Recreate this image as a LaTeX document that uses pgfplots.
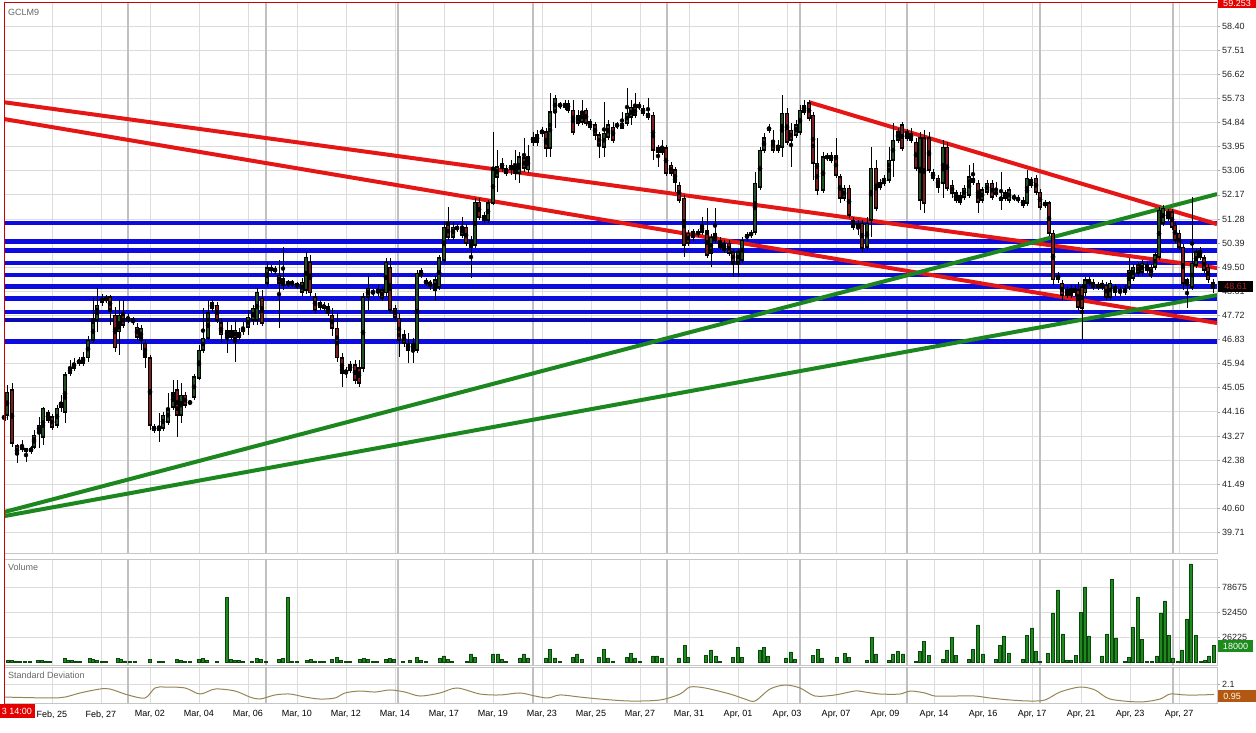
\documentclass[border=0pt]{standalone}
\usepackage{pgfplots}
\pgfplotsset{compat=1.18}
\usepackage{pgfplotstable}
\usepackage{fontspec}
\setmainfont{Liberation Sans}
\definecolor{gridl}{RGB}{220,220,220}
\definecolor{gridd}{RGB}{192,192,192}
\definecolor{tred}{RGB}{228,22,22}
\definecolor{tgreen}{RGB}{28,135,30}
\definecolor{tblue}{RGB}{12,12,222}
\definecolor{cup}{RGB}{35,80,35}
\definecolor{cdn}{RGB}{125,28,28}
\definecolor{volg}{RGB}{28,138,28}
\definecolor{volgd}{RGB}{12,70,12}
\definecolor{sdc}{RGB}{150,132,85}
\definecolor{curs}{RGB}{205,0,0}
\definecolor{boxbrown}{RGB}{178,88,18}
\definecolor{labc}{RGB}{35,35,35}
\newcommand\ff{\fontsize{9}{10}\selectfont}

\pgfplotstableread{
x lo hi bb bt
7 43.86 45.15 44.04 44.89
22 42.68 43.12 42.79 42.90
31 42.60 42.90 42.71 42.82
34 42.79 43.49 42.86 43.30
39 42.82 43.97 43.41 43.67
43 42.94 44.34 43.23 44.30
57 43.56 44.41 43.67 44.30
61 44.15 44.78 44.34 44.52
65 43.75 45.63 44.15 45.52
70 45.48 46.07 45.59 45.78
74 45.67 46.15 45.78 45.96
79 45.85 46.18 45.96 46.07
83 45.85 46.37 45.96 46.18
88 45.99 46.96 46.15 46.81
93 46.70 48.40 46.81 47.44
97 47.11 48.73 47.55 48.10
102 48.07 48.51 48.21 48.36
119 46.26 48.29 47.11 47.73
141 46.44 47.36 46.81 47.25
159 43.05 44.12 43.49 43.60
163 43.45 44.15 43.56 44.04
168 43.67 44.85 43.78 44.30
173 44.23 45.33 44.34 44.89
181 43.75 45.22 44.04 44.78
190 44.41 44.60 44.49 44.52
194 44.60 45.56 44.71 45.45
199 45.33 46.63 45.41 46.44
203 46.33 47.99 46.44 46.88
208 46.81 48.29 46.88 47.81
212 47.84 48.29 47.99 48.18
231 46.81 47.36 46.92 47.18
239 46.81 47.25 46.92 47.07
243 47.00 47.48 47.11 47.25
248 47.00 47.92 47.29 47.66
253 47.36 48.10 47.55 47.99
257 47.36 48.73 47.55 48.58
267 48.77 49.69 48.91 49.47
283 48.66 50.24 48.84 49.10
292 48.77 49.03 48.88 48.95
302 48.43 49.10 48.58 48.95
306 48.51 50.06 48.66 49.87
350 45.59 46.04 45.70 45.89
363 45.63 48.55 45.78 48.40
368 47.92 49.17 48.40 48.73
378 48.43 48.84 48.55 48.66
386 48.40 49.84 48.55 49.69
413 45.96 46.88 46.44 46.70
417 46.33 49.39 46.44 49.28
435 48.29 49.17 48.66 49.03
439 48.66 49.95 48.77 49.84
444 49.65 51.17 49.76 50.98
453 50.50 51.17 50.61 50.98
462 50.58 51.35 50.69 50.98
475 50.21 52.05 50.32 51.90
488 51.13 51.98 51.24 51.87
493 51.79 54.49 51.87 53.09
497 52.27 53.82 52.83 53.20
502 53.01 53.53 53.16 53.34
511 52.90 53.45 53.09 53.27
519 52.61 53.75 52.97 53.57
528 52.97 54.01 53.09 53.57
533 53.97 54.49 54.12 54.30
542 54.30 54.67 54.45 54.56
550 53.57 55.93 53.90 55.23
555 54.64 55.85 55.23 55.74
568 55.19 55.67 55.30 55.56
582 54.75 55.67 54.86 55.23
604 53.57 55.60 53.93 54.45
608 54.19 54.93 54.30 54.75
617 54.60 54.86 54.71 54.78
622 54.60 55.23 54.64 54.82
627 54.71 56.11 54.82 55.19
631 54.75 55.67 55.04 55.41
639 55.30 55.60 55.41 55.48
662 53.64 54.19 53.75 53.93
693 50.46 50.91 50.58 50.80
698 50.61 50.91 50.72 50.80
702 50.69 51.35 50.80 51.05
711 49.50 50.72 50.02 50.61
738 49.14 50.17 49.69 50.06
742 49.65 50.61 49.76 50.50
747 50.46 50.80 50.58 50.69
751 50.58 50.87 50.69 50.76
755 50.69 53.01 50.80 52.60
760 52.35 53.93 52.46 53.82
764 53.71 54.45 53.82 54.27
769 54.45 54.78 54.56 54.67
778 53.71 54.19 53.82 54.01
782 53.57 55.85 53.93 55.19
796 54.27 54.93 54.38 54.75
800 54.38 55.48 54.49 55.30
804 55.11 55.67 55.23 55.48
823 52.24 53.75 52.35 53.57
831 53.34 53.75 53.45 53.64
844 51.94 52.53 52.05 52.42
867 50.13 51.35 50.24 51.13
871 50.61 53.93 51.24 53.16
880 52.35 52.75 52.46 52.64
884 52.49 52.90 52.60 52.79
889 52.61 53.93 52.72 53.45
893 52.83 54.82 53.45 54.19
898 54.08 54.64 54.19 54.49
907 54.16 54.60 54.27 54.49
920 51.61 54.49 51.98 54.27
943 52.05 54.19 52.60 53.93
960 51.79 52.27 51.90 52.16
964 51.98 52.53 52.09 52.42
969 52.05 53.27 52.16 52.83
982 51.87 52.46 51.98 52.35
987 52.16 52.72 52.27 52.60
1005 51.94 52.35 52.05 52.24
1009 51.87 52.46 51.98 52.35
1027 51.76 53.09 51.87 52.79
1031 52.42 52.83 52.53 52.72
1067 48.36 48.77 48.47 48.66
1075 48.43 48.84 48.55 48.73
1085 48.43 49.14 48.55 49.03
1089 48.80 49.14 48.91 49.03
1102 48.66 49.03 48.77 48.91
1110 48.29 49.03 48.40 48.91
1115 48.43 48.88 48.55 48.77
1125 48.47 48.84 48.58 48.73
1129 48.66 49.84 48.77 49.39
1133 48.99 49.61 49.10 49.50
1142 49.21 49.76 49.32 49.65
1155 49.39 50.06 49.50 49.95
1159 49.76 51.72 49.87 51.61
1163 51.02 51.79 51.13 51.68
1192 48.66 52.09 48.77 49.65
1196 49.47 50.17 49.58 50.06
}\upc

\pgfplotstableread{
x lo hi bb bt
4 43.78 44.15 43.86 44.04
12 42.86 45.22 43.01 44.97
17 42.27 42.97 42.57 42.90
26 42.31 42.82 42.71 42.79
48 43.75 44.23 43.86 44.12
52 43.49 44.08 43.60 43.97
106 48.18 48.47 48.29 48.36
110 47.36 48.47 47.92 48.40
115 46.37 48.03 46.52 47.73
123 47.25 48.29 47.36 47.73
128 47.44 47.77 47.55 47.66
133 47.36 47.66 47.48 47.59
137 46.81 47.44 46.92 47.29
145 45.78 46.81 46.18 46.70
150 43.49 46.26 43.67 46.15
154 43.38 43.71 43.49 43.60
177 43.23 45.33 44.04 44.97
185 44.30 44.89 44.41 44.78
217 47.44 48.21 47.55 48.10
221 46.70 47.62 47.00 47.44
227 46.33 47.48 46.92 47.18
235 46.00 47.55 46.88 47.18
262 47.33 48.66 47.44 48.36
271 49.28 49.58 49.39 49.47
275 49.25 49.54 49.36 49.43
279 47.25 49.76 48.91 49.21
288 48.77 49.03 48.88 48.95
297 48.69 48.95 48.80 48.88
310 48.43 49.95 48.55 49.69
315 47.81 48.55 47.92 48.40
320 47.92 48.29 48.03 48.18
324 47.88 48.21 47.99 48.10
328 47.70 48.18 47.81 48.03
332 46.96 47.99 47.25 47.73
337 45.99 47.81 46.15 47.25
342 45.08 46.33 45.59 46.15
346 45.41 45.81 45.59 45.70
355 45.19 46.07 45.33 45.89
359 45.08 46.07 45.22 45.78
373 48.43 48.69 48.55 48.62
382 48.25 48.77 48.36 48.66
390 47.81 49.84 47.92 49.50
395 47.55 48.10 47.66 47.99
399 46.18 47.81 46.81 47.62
404 46.55 47.18 46.70 47.00
408 45.96 47.07 46.44 46.70
421 49.10 49.47 49.21 49.36
426 48.80 49.10 48.91 48.99
430 48.66 49.03 48.84 48.95
448 50.50 51.72 50.61 51.05
457 50.80 51.09 50.91 50.98
466 50.28 51.09 50.39 50.98
471 49.10 50.65 50.24 50.50
479 51.24 52.05 51.35 51.90
484 51.13 51.54 51.24 51.42
506 52.86 53.27 52.97 53.16
515 52.72 53.82 52.97 53.20
524 53.01 54.27 53.16 53.53
537 53.97 54.56 54.12 54.38
546 53.57 54.64 53.90 54.49
560 55.34 55.60 55.45 55.52
565 55.30 55.67 55.41 55.56
573 54.38 55.67 54.49 55.30
578 54.71 55.30 54.82 55.11
586 54.71 55.37 54.82 55.30
590 54.56 54.97 54.67 54.86
595 54.19 54.86 54.38 54.75
599 53.53 54.49 54.01 54.38
613 54.08 54.86 54.19 54.67
635 55.00 55.93 55.11 55.41
643 55.08 55.48 55.19 55.37
648 54.93 55.74 55.04 55.19
653 53.45 55.23 53.82 55.11
658 53.20 54.01 53.75 53.90
666 52.86 54.01 52.97 53.90
671 52.86 53.38 52.97 53.27
675 52.27 53.20 52.64 53.09
679 51.87 52.64 51.98 52.53
684 49.87 52.16 50.32 52.05
688 50.28 50.87 50.39 50.76
707 49.84 51.68 49.95 50.87
715 50.39 51.68 50.50 50.76
720 50.13 50.61 50.24 50.50
724 50.02 50.50 50.13 50.39
729 49.91 50.50 50.02 50.39
733 49.14 50.17 49.69 50.06
773 53.71 54.56 53.82 54.19
787 54.01 55.37 54.12 55.19
791 53.20 54.82 54.19 54.56
809 54.89 55.67 55.00 55.56
813 52.72 55.23 53.34 55.11
817 52.16 54.27 52.35 53.34
827 53.42 53.71 53.53 53.60
836 52.79 54.27 52.90 53.64
840 51.87 52.94 52.05 52.83
849 51.31 52.53 51.42 52.42
853 50.87 51.35 50.98 51.24
858 50.69 51.24 50.95 51.13
862 50.06 51.24 50.21 51.13
876 51.57 53.45 51.68 53.16
902 53.79 54.86 53.90 54.75
911 54.08 54.64 54.19 54.45
916 53.05 54.27 53.16 54.12
924 51.50 54.56 51.87 54.27
929 52.97 54.49 53.09 54.27
933 52.68 53.12 52.79 53.01
938 52.24 52.90 52.46 52.79
947 52.31 54.12 52.42 53.93
952 52.05 52.72 52.24 52.53
956 51.87 52.35 51.98 52.24
973 52.53 53.34 52.64 52.79
978 51.50 52.72 51.90 52.60
992 51.98 52.72 52.09 52.60
996 52.09 52.64 52.20 52.27
1001 51.61 53.01 51.98 52.09
1014 51.94 52.20 52.05 52.12
1018 51.87 52.16 51.98 52.05
1023 51.68 52.09 51.79 51.98
1036 52.16 52.90 52.27 52.79
1040 51.61 52.38 51.72 52.27
1045 51.68 51.98 51.79 51.87
1049 50.65 51.94 50.76 51.87
1053 48.84 50.87 49.03 50.76
1058 48.91 49.32 49.03 49.21
1062 48.29 49.03 48.47 48.91
1071 48.36 48.84 48.47 48.73
1078 47.92 48.95 48.03 48.66
1082 46.81 48.88 47.99 48.77
1093 48.66 49.06 48.77 48.95
1098 48.66 48.95 48.77 48.84
1106 48.29 48.95 48.40 48.84
1120 48.43 48.77 48.55 48.66
1138 49.17 49.69 49.28 49.58
1147 49.28 49.69 49.39 49.58
1151 49.10 49.61 49.21 49.50
1168 51.20 51.65 51.31 51.54
1172 50.87 51.65 50.98 51.54
1175 50.39 51.17 50.50 51.05
1179 50.13 50.87 50.24 50.76
1183 48.66 50.35 48.91 50.24
1187 47.99 49.10 48.84 49.03
1200 49.76 50.24 49.87 50.13
1204 49.28 49.95 49.39 49.84
1208 48.91 49.61 49.03 49.50
1213 48.55 49.06 48.73 48.95
}\dnc

\pgfplotstableread{
x v
8 1500
12 1500
16 1200
20 1000
25 1000
30 1000
38 1500
42 1800
46 1200
50 800
65 4000
68 2000
72 1500
76 1200
80 1000
90 3500
93 2500
97 2000
102 1000
106 800
118 3500
121 2500
125 1200
130 800
135 800
150 2500
159 800
163 800
177 2500
181 2000
185 1000
190 800
199 2500
203 3500
207 2000
217 800
227 68000
231 2500
235 2000
239 1500
243 1000
252 1000
257 4000
261 3000
266 1000
279 2500
283 3500
288 68000
292 1000
297 800
307 2000
311 2500
315 1200
320 1000
324 800
332 2500
337 5000
341 1500
346 1000
350 800
360 2500
364 4000
368 3000
373 1000
377 800
386 2500
390 4000
394 2500
403 1000
410 1500
417 5000
421 1500
426 1000
440 4200
444 6300
448 3100
452 1000
467 1000
471 8400
475 5200
493 8400
498 8400
502 3100
506 1000
520 4200
524 8400
528 4200
546 4200
550 13600
555 4200
560 800
573 5200
577 8400
582 3100
599 5200
604 13600
608 4200
613 1000
627 5200
631 9400
635 4200
640 800
653 6300
657 6300
662 4200
679 4200
685 17800
688 5200
706 7300
711 12600
716 6300
720 800
733 5200
738 15700
742 5200
760 12600
764 15700
768 6300
786 4200
791 10500
795 3100
813 7300
818 13600
822 4200
837 5200
845 9400
849 5200
867 2000
872 26000
876 8400
889 2000
893 8400
898 11500
903 8400
916 1000
920 11500
924 22000
929 7300
943 3100
947 12600
952 26000
956 7300
969 3100
973 13600
978 38800
983 8400
996 3100
1000 17800
1004 27300
1009 9400
1023 3100
1027 28300
1032 35700
1036 11500
1040 1000
1048 9400
1053 51400
1058 75500
1063 29400
1067 1500
1071 1500
1076 7300
1081 52400
1085 78700
1089 27300
1102 6300
1107 29400
1112 87000
1116 25200
1125 500
1129 5200
1133 36700
1138 68200
1142 24100
1147 1000
1152 1000
1157 6300
1161 51400
1165 64000
1169 28300
1173 4200
1178 1000
1182 12600
1187 45100
1191 102800
1196 28300
1201 1000
1205 2000
1209 6300
1214 17800
}\vol

\pgfplotstableread{
x s
4 0.85
50 0.76
65 0.85
80 1.24
100 1.62
110 1.62
128 1.05
145 0.76
155 1.72
165 1.81
185 1.72
200 1.14
215 1.62
235 1.43
250 0.85
260 0.66
275 1.05
290 1.14
305 0.85
320 0.66
335 0.76
345 1.24
360 1.43
375 1.33
390 1.53
405 1.33
420 0.95
440 1.24
457 1.72
480 1.14
500 1.05
520 1.24
535 0.95
548 0.76
560 1.05
580 0.85
600 0.66
630 0.47
660 0.57
680 1.14
690 1.81
705 1.72
730 1.14
745 0.66
755 0.47
770 1.62
785 2.00
800 1.72
815 0.95
835 1.05
855 1.43
865 1.33
880 1.14
900 1.14
910 1.43
925 1.24
935 0.95
955 0.95
975 0.95
990 0.76
1010 0.57
1030 0.47
1045 0.57
1060 1.33
1080 1.81
1095 1.53
1110 0.66
1140 0.38
1160 0.66
1170 1.14
1185 1.05
1200 1.05
1214 1.10
}\sdt

\pgfplotsset{
  panel/.style={
    scale only axis, width=1213pt, xmin=4, xmax=1217,
    axis line style={draw=gray!45, line width=0.8pt},
    xtick={52,101,...,1179},
    xmajorgrids=true, ymajorgrids=true,
    major grid style={draw=gridl, line width=0.8pt},
    extra x ticks={128,266,398,533,667,800,907,1040,1173},
    extra x tick labels={},
    extra x tick style={xmajorgrids=true, major grid style={draw=gridd, line width=1.6pt}, xtick style={draw=none}},
    xtick style={draw=none},
    ytick style={draw=gray!70, line width=0.6pt},
    tick align=outside, major tick length=3pt,
    ytick pos=right, yticklabel pos=right,
    tick label style={font=\ff, text=labc},
    yticklabel style={xshift=-1.5pt},
    scaled ticks=false,
    clip=true,
  },
}

\begin{document}
\begin{tikzpicture}
\useasboundingbox (0,0) rectangle (1256pt,732pt);

% ---------- price panel ----------
\begin{axis}[panel, at={(4pt,179pt)}, anchor=south west, height=551pt,
  ymin=38.95, ymax=59.29,
  xticklabels={},
  ytick={39.71,40.60,41.49,42.38,43.27,44.16,45.05,45.94,46.83,47.72,48.61,49.50,50.39,51.28,52.17,53.06,53.95,54.84,55.73,56.62,57.51,58.40},
  yticklabels={39.71,40.60,41.49,42.38,43.27,44.16,45.05,45.94,46.83,47.72,48.61,49.50,50.39,51.28,52.17,53.06,53.95,54.84,55.73,56.62,57.51,58.40},
]
% support / resistance levels
\addplot[tblue, line width=4.5pt, forget plot] coordinates {(4,51.14) (1217,51.14)};
\addplot[tblue, line width=4.5pt, forget plot] coordinates {(4,50.44) (1217,50.44)};
\addplot[tblue, line width=4.5pt, forget plot] coordinates {(4,50.11) (1217,50.11)};
\addplot[tblue, line width=4.5pt, forget plot] coordinates {(4,49.66) (1217,49.66)};
\addplot[tblue, line width=4.5pt, forget plot] coordinates {(4,49.21) (1217,49.21)};
\addplot[tblue, line width=4.5pt, forget plot] coordinates {(4,48.78) (1217,48.78)};
\addplot[tblue, line width=4.5pt, forget plot] coordinates {(4,48.35) (1217,48.35)};
\addplot[tblue, line width=4.5pt, forget plot] coordinates {(4,47.85) (1217,47.85)};
\addplot[tblue!80!black, line width=4.5pt, forget plot] coordinates {(4,47.55) (1217,47.55)};
\addplot[tblue, line width=4.5pt, forget plot] coordinates {(4,46.75) (1217,46.75)};
% trend lines
\addplot[tred, line width=4pt, forget plot] coordinates {(4,55.59) (1217,49.47)};
\addplot[tred, line width=4pt, forget plot] coordinates {(4,54.97) (1217,47.44)};
\addplot[tred, line width=4pt, forget plot] coordinates {(809,55.59) (1217,51.09)};
\addplot[tgreen, line width=4pt, forget plot] coordinates {(4,40.46) (1217,52.20)};
\addplot[tgreen, line width=4pt, forget plot] coordinates {(4,40.31) (1217,48.47)};
% candles: wicks
\addplot[only marks, mark=none, forget plot, error bars/.cd, y dir=both, y explicit, error mark=none,
  error bar style={draw=black, line width=1pt}]
  table[x=x, y expr={(\thisrow{hi}+\thisrow{lo})/2}, y error expr={(\thisrow{hi}-\thisrow{lo})/2}] {\upc};
\addplot[only marks, mark=none, forget plot, error bars/.cd, y dir=both, y explicit, error mark=none,
  error bar style={draw=black, line width=1pt}]
  table[x=x, y expr={(\thisrow{hi}+\thisrow{lo})/2}, y error expr={(\thisrow{hi}-\thisrow{lo})/2}] {\dnc};
% candle bodies (outline)
\addplot[only marks, mark=none, forget plot, error bars/.cd, y dir=both, y explicit, error mark=none,
  error bar style={draw=black, line width=3.6pt}]
  table[x=x, y expr={(\thisrow{bt}+\thisrow{bb})/2}, y error expr={(\thisrow{bt}-\thisrow{bb})/2+0.02}] {\upc};
\addplot[only marks, mark=none, forget plot, error bars/.cd, y dir=both, y explicit, error mark=none,
  error bar style={draw=black, line width=3.6pt}]
  table[x=x, y expr={(\thisrow{bt}+\thisrow{bb})/2}, y error expr={(\thisrow{bt}-\thisrow{bb})/2+0.02}] {\dnc};
% candle bodies (fill)
\addplot[only marks, mark=none, forget plot, error bars/.cd, y dir=both, y explicit, error mark=none,
  error bar style={draw=cup, line width=1.8pt}]
  table[x=x, y expr={(\thisrow{bt}+\thisrow{bb})/2}, y error expr={max((\thisrow{bt}-\thisrow{bb})/2-0.03,0.002)}] {\upc};
\addplot[only marks, mark=none, forget plot, error bars/.cd, y dir=both, y explicit, error mark=none,
  error bar style={draw=cdn, line width=1.8pt}]
  table[x=x, y expr={(\thisrow{bt}+\thisrow{bb})/2}, y error expr={max((\thisrow{bt}-\thisrow{bb})/2-0.03,0.002)}] {\dnc};
% cursor line at high
\draw[curs, line width=1pt] (axis cs:4,59.253) -- (axis cs:1217,59.253);
\end{axis}

% ---------- volume panel ----------
\begin{axis}[panel, at={(4pt,67pt)}, anchor=south west, height=106pt,
  ymin=-3147, ymax=108000,
  xticklabels={},
  ytick={26225,52450,78675}, yticklabels={26225,52450,78675},
]
\addplot[ybar, bar width=3pt, fill=volg, draw=volgd, line width=0.4pt, forget plot] table[x=x, y=v] {\vol};
\end{axis}

% ---------- standard deviation panel ----------
\begin{axis}[panel, at={(4pt,29pt)}, anchor=south west, height=36pt,
  ymin=0.28, ymax=3.73,
  ytick={2.1}, yticklabels={2.1},
  xticklabels={{Feb, 25},{Feb, 27},{Mar, 02},{Mar, 04},{Mar, 06},{Mar, 10},{Mar, 12},{Mar, 14},{Mar, 17},{Mar, 19},{Mar, 23},{Mar, 25},{Mar, 27},{Mar, 31},{Apr, 01},{Apr, 03},{Apr, 07},{Apr, 09},{Apr, 14},{Apr, 16},{Apr, 17},{Apr, 21},{Apr, 23},{Apr, 27}},
  xticklabel style={text=black, yshift=-1pt},
]
\addplot[sdc, line width=1pt, smooth, tension=0.5, forget plot] table[x=x, y=s] {\sdt};
\end{axis}

% cursor vertical line
\draw[curs, line width=1pt] (4.5pt,730pt) -- (4.5pt,28pt);

% panel titles
\node[anchor=west, text=gray!80!black, font=\ff, inner sep=0pt] at (8pt,720pt) {GCLM9};
\node[anchor=west, text=gray!80!black, font=\ff, inner sep=0pt] at (8pt,165pt) {Volume};
\node[anchor=west, text=gray!80!black, font=\ff, inner sep=0pt] at (8pt,57pt) {Standard Deviation};

% value boxes
\fill[red!90!black] (1218pt,724pt) rectangle (1256pt,732pt);
\node[text=white, font=\ff, inner sep=0pt] at (1237pt,729pt) {59.253};
\fill[black] (1218pt,440pt) rectangle (1253pt,451pt);
\node[text={rgb,255:red,175;green,30;blue,30}, font=\ff, inner sep=0pt] at (1235.5pt,445.5pt) {48.61};
\fill[volg] (1218pt,80pt) rectangle (1253pt,92pt);
\node[text=white, font=\ff, inner sep=0pt] at (1235.5pt,86pt) {18000};
\fill[boxbrown] (1218pt,30pt) rectangle (1256pt,42pt);
\node[text=white!90!yellow, font=\ff, inner sep=0pt] at (1232pt,36pt) {0.95};
\fill[red!90!black] (0pt,14pt) rectangle (35pt,28pt);
\node[text=white, font=\ff, inner sep=0pt] at (17pt,21pt) {3 14:00};
\end{tikzpicture}
\end{document}
